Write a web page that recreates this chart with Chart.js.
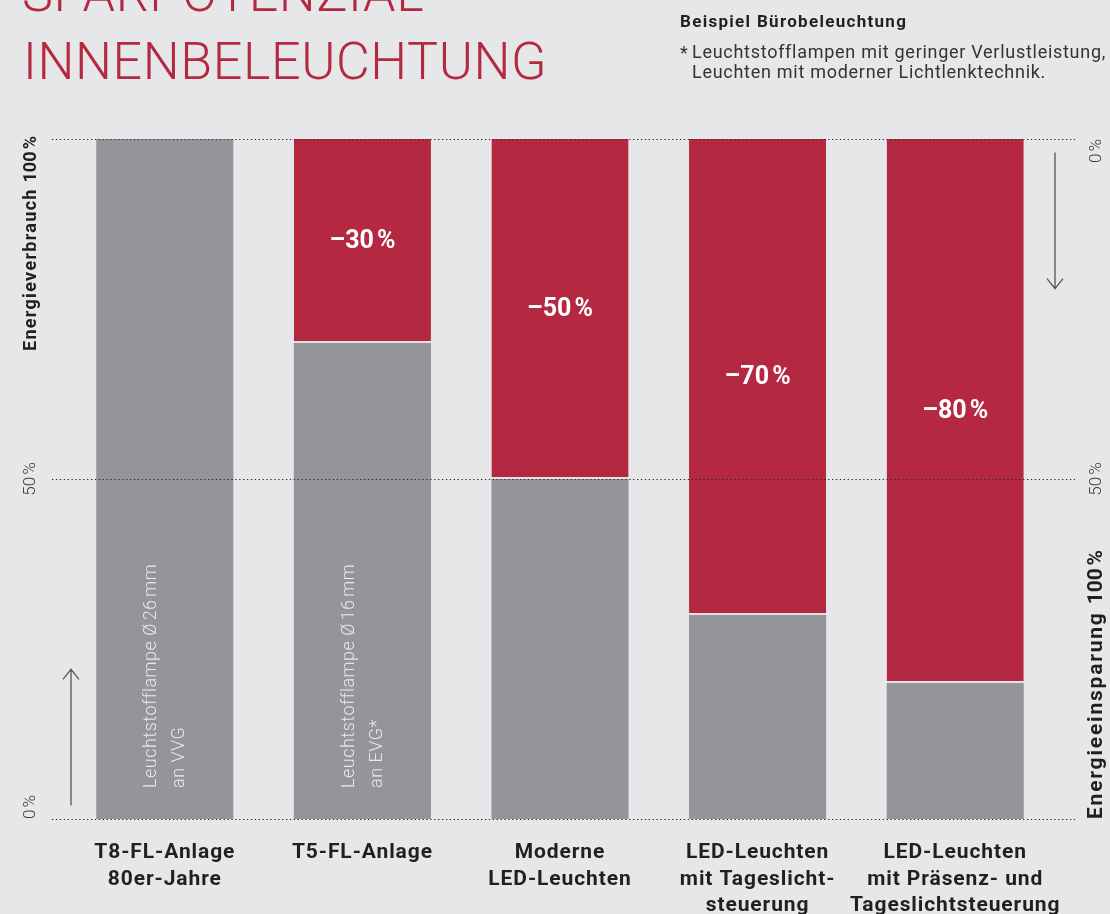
<!DOCTYPE html>
<html>
<head>
<meta charset="utf-8">
<style>
  html, body { margin: 0; padding: 0; background: #e6e7e8; }
  #wrap { width: 1110px; height: 914px; position: relative; overflow: hidden; }
  canvas { display: block; }
</style>
<script src="https://cdn.jsdelivr.net/npm/chart.js@4.4.1/dist/chart.umd.min.js"></script>
</head>
<body>
<div id="wrap"><canvas id="c" width="1110" height="914"></canvas></div>
<script>
// ---------- data ----------
const categoryLines = [
  ['T8-FL-Anlage', '80er-Jahre'],
  ['T5-FL-Anlage'],
  ['Moderne', 'LED-Leuchten'],
  ['LED-Leuchten', 'mit Tageslicht-', 'steuerung'],
  ['LED-Leuchten', 'mit Präsenz- und', 'Tageslichtsteuerung']
];
const consumption = [100, 70, 50, 30, 20];   // remaining energy use (grey)
const savings     = [0, 30, 50, 70, 80];     // saving (red)
const savingLabels = ['', '–30\u202F%', '–50\u202F%', '–70\u202F%', '–80\u202F%'];
const barNotes = [
  ['Leuchtstofflampe Ø\u202F26\u202Fmm', 'an VVG'],
  ['Leuchtstofflampe Ø\u202F16\u202Fmm', 'an EVG*'],
  [], [], []
];
const yTickValues = [0, 50, 100];
const leftTickLabels  = ['0\u202F%', '50\u202F%', 'Energieverbrauch 100\u202F%'];
const rightTickLabels = ['0\u202F%', '50\u202F%', 'Energieeinsparung 100\u202F%'];
const titleLines = ['SPARPOTENZIAL', 'INNENBELEUCHTUNG'];
const noteHeading = 'Beispiel Bürobeleuchtung';
const noteLines = ['Leuchtstofflampen mit geringer Verlustleistung,', 'Leuchten mit moderner Lichtlenktechnik.'];

// ---------- styles ----------
const GREY = '#939598';
const RED = '#b52841';
const DARK = '#231f20';

function drawText(ctx, s, x, y, opt) {
  ctx.save();
  ctx.font = opt.font;
  ctx.fillStyle = opt.color || DARK;
  ctx.textAlign = opt.align || 'left';
  ctx.textBaseline = opt.baseline || 'alphabetic';
  if (opt.ls) ctx.letterSpacing = opt.ls;
  ctx.translate(x, y);
  if (opt.rot) ctx.rotate(opt.rot);
  ctx.fillText(s, 0, 0);
  ctx.restore();
}

function arrow(ctx, x, y1, y2) {
  const dir = y2 < y1 ? -1 : 1;
  ctx.save();
  ctx.strokeStyle = '#555';
  ctx.lineWidth = 1.3;
  ctx.beginPath();
  ctx.moveTo(x, y1); ctx.lineTo(x, y2);
  ctx.moveTo(x - 8, y2 - dir * 10); ctx.lineTo(x, y2); ctx.lineTo(x + 8, y2 - dir * 10);
  ctx.stroke();
  ctx.restore();
}

const decor = {
  id: 'decor',
  afterDatasetsDraw(chart) {
    const ctx = chart.ctx;
    const ys = chart.scales.y, ys2 = chart.scales.y2, xs = chart.scales.x;
    const area = chart.chartArea;

    // dotted grid lines on top of the bars
    ctx.save();
    ctx.strokeStyle = '#2a2a2a';
    ctx.lineWidth = 1.2;
    ctx.setLineDash([1.3, 2.6]);
    yTickValues.forEach(v => {
      const y = Math.round(ys.getPixelForValue(v)) + 0.5;
      ctx.beginPath();
      ctx.moveTo(area.left - 14, y);
      ctx.lineTo(area.right + 21, y);
      ctx.stroke();
    });
    ctx.restore();

    // saving labels inside red segments
    const redMeta = chart.getDatasetMeta(1).data;
    savings.forEach((v, i) => {
      if (!v) return;
      const b = redMeta[i];
      drawText(ctx, savingLabels[i], b.x, (b.y + b.base) / 2 + 1, {
        font: 'bold 25px Roboto', color: '#ffffff', align: 'center', baseline: 'middle', ls: '0.3px'
      });
    });

    // notes in the grey bars
    const greyMeta = chart.getDatasetMeta(0).data;
    barNotes.forEach((lines, i) => {
      const b = greyMeta[i];
      lines.forEach((s, k) => {
        drawText(ctx, s, b.x - 13 + k * 28, ys.getPixelForValue(0) - 31, {
          font: '300 18px Roboto', color: '#e8e8ea', align: 'left', baseline: 'middle',
          rot: -Math.PI / 2, ls: '0.5px'
        });
      });
    });

    // category labels
    categoryLines.forEach((lines, i) => {
      const x = xs.getPixelForValue(i);
      lines.forEach((s, k) => {
        drawText(ctx, s, x, ys.getPixelForValue(0) + 34 + k * 26.5, {
          font: 'bold 21px Roboto', color: DARK, align: 'center', baseline: 'middle', ls: '0.9px'
        });
      });
    });

    // left axis labels (consumption)
    const alignsL = ['left', 'center', 'right'];
    yTickValues.forEach((v, i) => {
      const last = i === yTickValues.length - 1;
      drawText(ctx, leftTickLabels[i], 31, ys.getPixelForValue(v) + (last ? -3 : 0), {
        font: last ? 'bold 18px Roboto' : '300 17px Roboto',
        color: last ? DARK : '#3a3a3a',
        align: alignsL[i], baseline: 'middle', rot: -Math.PI / 2, ls: last ? '1.3px' : '0px'
      });
    });
    // right axis labels (savings, reversed)
    const alignsR = ['right', 'center', 'left'];
    yTickValues.forEach((v, i) => {
      const last = i === yTickValues.length - 1;
      drawText(ctx, rightTickLabels[i], 1097, ys2.getPixelForValue(v), {
        font: last ? 'bold 21px Roboto' : '300 17px Roboto',
        color: last ? DARK : '#3a3a3a',
        align: alignsR[i], baseline: 'middle', rot: -Math.PI / 2, ls: last ? '1.8px' : '0px'
      });
    });

    // arrows
    arrow(ctx, 71, ys.getPixelForValue(2), ys.getPixelForValue(22));
    arrow(ctx, 1055, ys2.getPixelForValue(2), ys2.getPixelForValue(22));

    // title
    drawText(ctx, titleLines[0], 22, 11, { font: '300 52px Roboto', color: RED, ls: '0.6px' });
    drawText(ctx, titleLines[1], 23, 79, { font: '300 52px Roboto', color: RED, ls: '0.6px' });

    // note block
    drawText(ctx, noteHeading, 680, 27, { font: 'bold 17px Roboto', color: DARK, ls: '1.3px' });
    drawText(ctx, '*', 680, 59, { font: '18px Roboto', color: '#333' });
    drawText(ctx, noteLines[0], 692, 58, { font: '18px Roboto', color: '#333', ls: '0.72px' });
    drawText(ctx, noteLines[1], 692, 78, { font: '18px Roboto', color: '#333', ls: '0.72px' });
  }
};

new Chart(document.getElementById('c'), {
  type: 'bar',
  data: {
    labels: categoryLines.map(l => l.join(' ')),
    datasets: [
      {
        label: 'Energieverbrauch',
        data: consumption,
        backgroundColor: GREY,
        borderWidth: 0,
        categoryPercentage: 1,
        barPercentage: 0.694
      },
      {
        label: 'Energieeinsparung',
        data: savings,
        backgroundColor: RED,
        borderColor: '#e3e3e5',
        borderWidth: { top: 0, left: 0, right: 0, bottom: 2 },
        borderSkipped: false,
        categoryPercentage: 1,
        barPercentage: 0.694
      }
    ]
  },
  options: {
    responsive: false,
    animation: false,
    devicePixelRatio: 1,
    layout: { padding: { left: 66, right: 56, top: 139, bottom: 95 } },
    plugins: { legend: { display: false }, tooltip: { enabled: false } },
    scales: {
      x: { stacked: true, display: false },
      y: { stacked: true, min: 0, max: 100, display: false },
      y2: { type: 'linear', axis: 'y', min: 0, max: 100, reverse: true, display: false }
    }
  },
  plugins: [decor]
});
</script>
</body>
</html>
